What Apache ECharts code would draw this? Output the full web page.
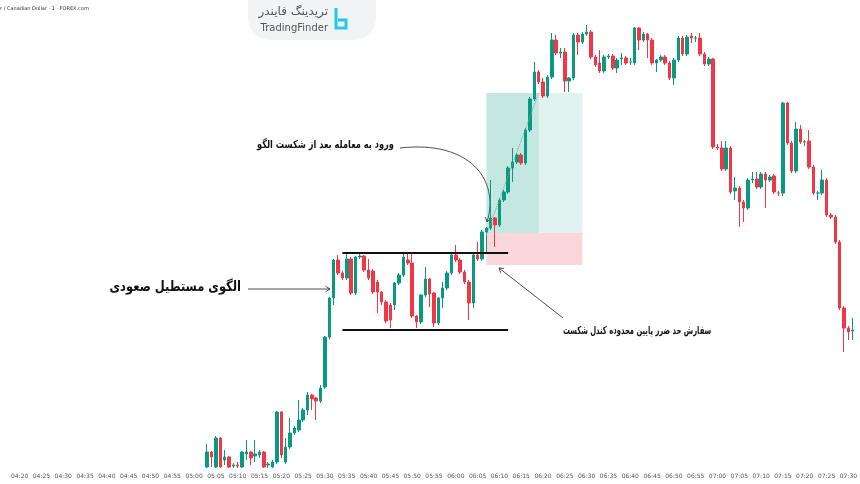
<!DOCTYPE html>
<html>
<head>
<meta charset="utf-8">
<script src="https://cdn.jsdelivr.net/npm/echarts@6/dist/echarts.min.js"></script>
<style>
  html, body { margin: 0; padding: 0; background: #ffffff; }
  #chart { width: 860px; height: 484px; }
</style>
</head>
<body>
<div id="chart"></div>
<script>
// USD/CAD 1 minute, price in points above the bottom of the visible range
const startTime = '04:16';
const barCount = 196;
const firstBar = 47; // 05:03

// [open, close, low, high]
const candles = [
  [1, 16, 0, 24], [16, 11, 1, 17], [1, 30, 0, 32], [30, 1, 0, 31], [8, 11, 3, 18],
  [11, 1, 0, 12], [2, 3, 0, 5], [3, 2, 0, 6], [1, 16, 0, 17], [14, 16, 8, 28],
  [16, 10, 3, 17], [12, 14, 6, 28], [13, 16, 10, 18], [16, 1, 0, 17], [3, 4, 0, 6],
  [1, 6, 0, 8], [6, 56, 4, 57], [56, 13, 10, 57], [6, 21, 4, 30], [21, 35, 19, 50],
  [35, 40, 33, 42], [38, 48, 36, 68], [48, 58, 46, 60], [58, 73, 53, 76], [73, 69, 58, 74],
  [70, 67, 48, 71], [67, 80, 65, 83], [81, 131, 79, 132], [131, 170, 129, 171], [170, 208, 163, 209],
  [208, 195, 193, 213], [195, 190, 188, 197], [190, 209, 188, 215], [209, 175, 173, 211], [175, 211, 173, 212],
  [211, 212, 209, 215], [212, 198, 196, 213], [198, 190, 188, 209], [197, 176, 174, 199], [186, 176, 155, 188],
  [176, 166, 163, 177], [166, 147, 145, 168], [163, 148, 140, 165], [163, 185, 158, 186], [185, 193, 183, 195],
  [193, 211, 191, 215], [208, 205, 203, 215], [205, 152, 150, 215], [152, 146, 140, 153], [146, 173, 144, 174],
  [173, 189, 171, 201], [189, 174, 161, 190], [175, 145, 141, 176], [145, 170, 143, 171], [170, 180, 160, 186],
  [180, 195, 178, 197], [195, 213, 193, 215], [213, 208, 206, 223], [208, 196, 194, 210], [196, 186, 184, 198],
  [186, 165, 148, 188], [165, 213, 160, 214], [213, 209, 207, 226], [209, 236, 207, 238],
  [236, 240, 215, 241], [240, 250, 238, 288], [250, 243, 221, 251], [243, 268, 241, 270], [268, 276, 266, 278],
  [276, 300, 274, 302], [300, 306, 286, 320], [306, 313, 304, 315], [313, 305, 303, 315], [305, 338, 303, 340],
  [338, 369, 336, 371], [369, 396, 367, 406], [396, 386, 384, 398], [386, 372, 370, 390], [372, 391, 370, 393],
  [391, 428, 389, 435], [428, 415, 413, 433], [415, 416, 410, 420], [416, 387, 376, 420], [387, 390, 376, 391],
  [390, 433, 388, 435], [433, 426, 413, 435], [426, 434, 424, 436], [434, 436, 432, 443], [436, 411, 409, 438],
  [411, 403, 401, 413], [405, 397, 395, 418], [397, 411, 395, 413], [411, 412, 409, 414], [412, 400, 398, 414],
  [400, 408, 395, 410], [409, 410, 403, 415], [410, 405, 403, 412], [406, 406, 403, 410], [405, 440, 403, 441],
  [440, 428, 418, 441], [428, 434, 426, 436], [434, 428, 410, 435], [428, 405, 403, 430], [405, 408, 396, 409],
  [408, 411, 406, 413], [411, 405, 403, 413], [405, 390, 388, 407], [390, 408, 383, 410], [408, 430, 406, 432],
  [430, 414, 412, 432], [414, 431, 412, 433], [432, 430, 425, 435], [430, 430, 426, 432], [430, 414, 412, 435],
  [414, 404, 402, 416], [404, 409, 402, 411], [409, 321, 319, 410], [321, 320, 318, 324], [320, 299, 297, 327],
  [299, 320, 297, 327], [320, 276, 274, 322],
  [277, 280, 268, 291], [280, 266, 241, 282], [266, 260, 246, 268], [260, 288, 258, 290], [288, 289, 285, 296],
  [289, 281, 279, 296], [281, 294, 279, 296], [294, 288, 260, 296], [288, 291, 286, 293], [292, 276, 274, 294],
  [275, 275, 272, 277], [275, 365, 272, 366], [365, 325, 323, 366], [325, 297, 295, 327], [297, 339, 295, 346],
  [339, 326, 324, 343], [326, 326, 322, 328], [327, 301, 299, 338], [301, 275, 273, 303], [275, 275, 268, 277],
  [275, 288, 273, 298], [288, 253, 251, 290], [253, 251, 249, 255], [251, 226, 224, 253], [226, 160, 158, 228],
  [160, 140, 116, 162], [140, 136, 128, 142], [137, 138, 128, 150]
];

const rectTop = 215;
const rectBottom = 138;
const rectFrom = '05:34';
const rectTo = '06:12';
const entryLevel = 235;
const stopLevel = 203;
const targetLevel = 375;
const tradeFrom = '06:07';
const tradeMid = '06:19';
const tradeTo = '06:29';

const UP = '#089981';
const DOWN = '#f23645';

function pad(n) { return (n < 10 ? '0' : '') + n; }

const times = [];
let [hh, mm] = startTime.split(':').map(Number);
for (let i = 0; i < barCount; i++) {
  times.push(pad(hh) + ':' + pad(mm));
  mm++;
  if (mm === 60) { mm = 0; hh++; }
}

const seriesData = Array(firstBar).fill('-').concat(candles);

const chart = echarts.init(document.getElementById('chart'));

const FONT = '"DejaVu Sans", "Noto Sans", sans-serif';

function arrowHead(x, y, angle, size) {
  const a1 = angle + Math.PI * 0.82;
  const a2 = angle - Math.PI * 0.82;
  return {
    type: 'polyline',
    shape: { points: [[x + size * Math.cos(a1), y + size * Math.sin(a1)], [x, y], [x + size * Math.cos(a2), y + size * Math.sin(a2)]] },
    style: { stroke: '#222', lineWidth: 0.8, fill: null }
  };
}

// persian note, squeezed horizontally to the width it has in the picture
function note(text, x, y, align, size, squeeze) {
  return {
    type: 'text',
    x, y,
    scaleX: squeeze,
    style: { text, x: 0, y: 0, align, verticalAlign: 'middle', font: 'bold ' + size + 'px ' + FONT, fill: '#111' }
  };
}

chart.setOption({
  backgroundColor: '#ffffff',
  animation: false,
  grid: { left: 0, right: 0, top: 0, bottom: 16 },
  xAxis: {
    type: 'category',
    data: times,
    axisLine: { show: false },
    axisTick: { show: false },
    splitLine: { show: false },
    axisLabel: {
      color: '#555',
      fontSize: 6,
      margin: 5,
      fontFamily: FONT,
      interval: (i, v) => Number(v.slice(3)) % 5 === 0
    }
  },
  yAxis: {
    type: 'value',
    min: 0,
    max: 468,
    show: false,
    splitLine: { show: false }
  },
  series: [{
    type: 'candlestick',
    data: seriesData,
    barWidth: 3,
    itemStyle: {
      color: UP,
      color0: DOWN,
      borderColor: UP,
      borderColor0: DOWN,
      borderWidth: 1
    },
    markArea: {
      silent: true,
      data: [
        [{ coord: [tradeFrom, entryLevel], itemStyle: { color: 'rgba(8,153,129,0.24)' } }, { coord: [tradeMid, targetLevel] }],
        [{ coord: [tradeMid, entryLevel], itemStyle: { color: 'rgba(8,153,129,0.12)' } }, { coord: [tradeTo, targetLevel] }],
        [{ coord: [tradeFrom, stopLevel], itemStyle: { color: 'rgba(242,54,69,0.2)' } }, { coord: [tradeTo, entryLevel] }]
      ]
    },
    markLine: {
      silent: true,
      symbol: 'none',
      label: { show: false },
      data: [
        [{ coord: [rectFrom, rectTop], lineStyle: { color: '#111', width: 2, type: 'solid' } }, { coord: [rectTo, rectTop] }],
        [{ coord: [rectFrom, rectBottom], lineStyle: { color: '#111', width: 2, type: 'solid' } }, { coord: [rectTo, rectBottom] }],
        [{ coord: [tradeFrom, entryLevel - 2], lineStyle: { color: '#8a9a98', width: 1, type: 'dotted' } }, { coord: [tradeMid, targetLevel] }]
      ]
    }
  }],
  graphic: [
    { type: 'rect', shape: { x: 248, y: -20, width: 128, height: 60, r: 22 }, style: { fill: '#f2f3f4' } },
    { type: 'text', style: { text: 'تریدینگ فایندر', x: 328, y: 12, align: 'right', verticalAlign: 'middle', font: '12px ' + FONT, fill: '#555' } },
    { type: 'text', style: { text: 'TradingFinder', x: 328, y: 28, align: 'right', verticalAlign: 'middle', font: '10px ' + FONT, fill: '#555' } },
    { type: 'polyline', shape: { points: [[336, 8], [336, 28], [346, 28], [346, 20], [338, 20]] }, style: { stroke: '#22c9e6', lineWidth: 3, fill: null } },
    { type: 'text', style: { text: 'r / Canadian Dollar · 1 · FOREX.com', x: 0, y: 9, verticalAlign: 'middle', font: '5px ' + FONT, fill: '#333' } },

    note('الگوی مستطیل صعودی', 241, 287, 'right', 14, 0.82),
    { type: 'line', shape: { x1: 248, y1: 289, x2: 330, y2: 289 }, style: { stroke: '#222', lineWidth: 0.8 } },
    arrowHead(330, 289, 0, 5),

    note('ورود به معامله بعد از شکست الگو', 394, 145, 'right', 11, 0.75),
    { type: 'bezierCurve', shape: { x1: 400, y1: 148, cpx1: 470, cpy1: 140, cpx2: 500, cpy2: 180, x2: 487, y2: 222 }, style: { stroke: '#222', lineWidth: 0.8, fill: null } },
    arrowHead(487, 222, Math.PI * 0.58, 5),

    note('سفارش حد ضرر پایین محدوده کندل شکست', 563, 331, 'left', 11, 0.62),
    { type: 'line', shape: { x1: 563, y1: 318, x2: 499, y2: 268 }, style: { stroke: '#222', lineWidth: 0.8 } },
    arrowHead(499, 268, Math.atan2(268 - 318, 499 - 563), 5)
  ]
});
</script>
</body>
</html>
